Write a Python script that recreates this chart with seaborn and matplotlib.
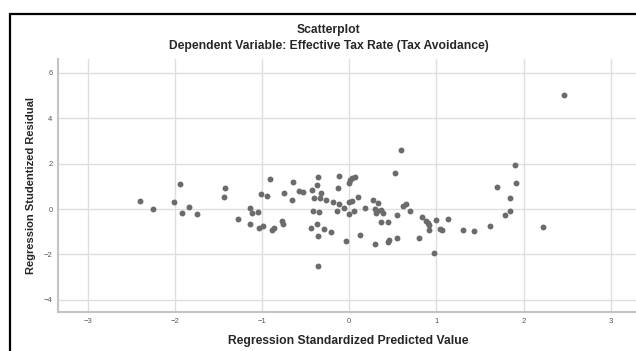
import matplotlib
matplotlib.use('Agg')
import matplotlib.pyplot as plt
import matplotlib.patches as mpatches
import seaborn as sns
import pandas as pd

# ── data ──
pred = [-2.40, -2.25, -2.01, -1.94, -1.92, -1.84, -1.75, -1.44, -1.42, -1.27,
        -1.14, -1.12, -1.05, -1.14, -1.04, -0.99, -1.01, -0.94, -0.91, -0.89,
        -0.86, -0.77, -0.76, -0.75, -0.66, -0.65, -0.58, -0.53, -0.43, -0.40,
        -0.37, -0.36, -0.32, -0.34, -0.27, -0.42, -0.35, -0.44, -0.37, -0.29,
        -0.36, -0.21, -0.36, -0.18, -0.12, -0.12, -0.13, -0.14, -0.06, -0.04,
        0.60, 0.52, 0.00, 0.01, 0.03, 0.07, 0.00, 0.03, 0.00, 0.05,
        0.10, 0.18, 0.27, 0.33, 0.30, 0.31, 0.32, 0.37, 0.39, 0.36,
        0.44, 0.55, 0.62, 0.65, 0.70, 0.12, 0.30, 0.45, 0.46, 0.55,
        0.80, 0.84, 0.88, 0.90, 0.91, 0.91, 1.00, 0.97, 1.04, 2.46,
        1.90, 1.91, 1.70, 1.84, 1.84, 1.79, 1.61, 2.22, 1.43, 1.31,
        1.13, 1.06]
resid = [0.34, -0.01, 0.32, 1.11, -0.18, 0.07, -0.21, 0.53, 0.91, -0.44,
         0.06, -0.19, -0.12, -0.67, -0.82, -0.75, 0.65, 0.59, 1.31, -0.93,
         -0.85, -0.53, -0.66, 0.72, 0.38, 1.19, 0.79, 0.75, 0.82, 0.50,
         1.04, 1.40, 0.72, 0.50, 0.38, -0.10, -0.15, -0.82, -0.67, -0.89,
         -1.20, -1.03, -2.51, 0.32, 0.22, 1.45, 0.91, -0.10, 0.06, -1.41,
         2.60, 1.57, 1.13, 1.28, 1.35, 1.41, 0.32, 0.35, -0.22, -0.07,
         0.53, 0.03, 0.40, 0.28, -0.01, -0.16, -0.10, -0.04, -0.16, -0.57,
         -0.57, -0.26, 0.13, 0.21, -0.09, -1.15, -1.53, -1.44, -1.37, -1.29,
         -1.29, -0.35, -0.53, -0.60, -0.72, -0.93, -0.48, -1.93, -0.89, 5.04,
         1.94, 1.13, 0.98, 0.50, -0.07, -0.25, -0.76, -0.79, -0.97, -0.94,
         -0.44, -0.91]

x_ticks = [-3, -2, -1, 0, 1, 2, 3]
y_ticks = [-4, -2, 0, 2, 4, 6]

df = pd.DataFrame({'pred': pred, 'resid': resid})

sns.set_style('white')
plt.rcParams['font.family'] = ['Liberation Sans', 'DejaVu Sans']

fig = plt.figure(figsize=(6.36, 3.51), dpi=100)
fig.patch.set_facecolor('white')
ax = fig.add_axes([58 / 636, 1 - 312.3 / 351, 1 - 58 / 636, (312.3 - 59.3) / 351])

sns.scatterplot(data=df, x='pred', y='resid', ax=ax, color='#6b6b6b',
                s=18, linewidth=0, zorder=3)

ax.set_xlim(-3.34, 3.29)
ax.set_ylim(-4.55, 6.6)
ax.set_xticks(x_ticks)
ax.set_yticks(y_ticks)
ax.grid(True, color='#dedede', linewidth=1.0, zorder=0)
ax.set_axisbelow(True)
ax.tick_params(length=0, labelsize=5.5, colors='#555555', pad=4)
for side in ['top', 'right']:
    ax.spines[side].set_visible(False)
for side in ['left', 'bottom']:
    ax.spines[side].set_color('#c4c4c4')
    ax.spines[side].set_linewidth(1.5)

ax.set_xlabel('')
ax.set_ylabel('')
fig.text(348 / 636, 1 - 341 / 351, 'Regression Standardized Predicted Value',
         ha='center', va='center', fontsize=8.7, fontweight='bold')
fig.text(30.7 / 636, 1 - 185.8 / 351, 'Regression Studentized Residual',
         ha='center', va='center', rotation=90, fontsize=8.0, fontweight='bold')

# titles sit on the chart frame, not on the axes
fig.text(328 / 636, 1 - 29.5 / 351, 'Scatterplot',
         ha='center', va='center', fontsize=8.7, fontweight='bold')
fig.text(329 / 636, 1 - 46 / 351, 'Dependent Variable: Effective Tax Rate (Tax Avoidance)',
         ha='center', va='center', fontsize=8.7, fontweight='bold')

# black SPSS chart frame, cut off on the right and bottom
frame = mpatches.Rectangle((10 / 636, -0.2), 1.2, 1 - 14 / 351 + 0.2,
                           transform=fig.transFigure, fill=False,
                           edgecolor='black', linewidth=1.6, clip_on=False)
fig.patches.append(frame)

fig.savefig('out.png', dpi=100, facecolor='white')
plt.close(fig)
